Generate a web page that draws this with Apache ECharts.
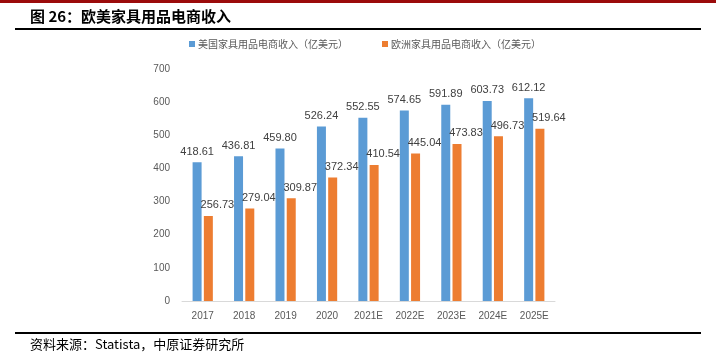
<!DOCTYPE html>
<html><head><meta charset="utf-8">
<script src="https://cdn.jsdelivr.net/npm/echarts@6/dist/echarts.min.js"></script>
<style>html,body{margin:0;padding:0;background:#fff}#c{width:716px;height:355px}</style>
</head><body><div id="c"></div>
<script>
const categories = ['2017','2018','2019','2020','2021E','2022E','2023E','2024E','2025E'];
const usValues = [418.61,436.81,459.80,526.24,552.55,574.65,591.89,603.73,612.12];
const euValues = [256.73,279.04,309.87,372.34,410.54,445.04,473.83,496.73,519.64];
const seriesNames = ['美国家具用品电商收入（亿美元）','欧洲家具用品电商收入（亿美元）'];
const titleText = '图 26：欧美家具用品电商收入';
const sourceText = '资料来源：Statista，中原证券研究所';

const chart = echarts.init(document.getElementById('c'), null, {renderer:'canvas'});
const labelStyle = {show:true, position:'top', distance:5, fontSize:11, color:'#404040',
  fontFamily:'Liberation Sans, sans-serif', formatter: p => p.value.toFixed(2)};
chart.setOption({
  animation:false,
  textStyle:{fontFamily:'"Noto Sans CJK SC", sans-serif'},
  graphic:[
    {type:'rect', shape:{x:0,y:0,width:716,height:3}, style:{fill:'#9b0b0b'}},
    {type:'text', left:30, top:9, style:{text:titleText, font:'bold 15px "Noto Sans CJK SC"', fill:'#000'}},
    {type:'rect', shape:{x:15,y:28,width:686,height:2}, style:{fill:'#000'}},
    {type:'rect', shape:{x:15,y:332,width:686,height:2}, style:{fill:'#000'}},
    {type:'text', left:30, top:338, style:{text:sourceText, font:'13px "Noto Sans CJK SC"', fill:'#000'}}
  ],
  legend:{top:39, left:189, padding:0, itemWidth:6, itemHeight:6, itemGap:34,
    textStyle:{fontSize:10, color:'#595959', padding:[0,0,0,-2]}, icon:'rect',
    data:seriesNames},
  grid:{left:182, right:161, top:69, bottom:54, containLabel:false},
  xAxis:{type:'category', data:categories,
    axisLine:{lineStyle:{color:'#d9d9d9'}}, axisTick:{show:false},
    axisLabel:{color:'#595959', fontSize:10, margin:10, fontFamily:'Liberation Sans Narrow, Liberation Sans, sans-serif'}},
  yAxis:{type:'value', min:0, max:700, interval:100,
    axisLine:{show:false}, axisTick:{show:false}, splitLine:{show:false},
    axisLabel:{color:'#595959', fontSize:10, margin:12, fontFamily:'Liberation Sans, sans-serif'}},
  series:[
    {name:seriesNames[0], type:'bar', data:usValues, barWidth:9, barGap:'25%',
     itemStyle:{color:'#5b9bd5'}, label:labelStyle},
    {name:seriesNames[1], type:'bar', data:euValues, barWidth:9,
     itemStyle:{color:'#ed7d31'}, label:Object.assign({}, labelStyle, {offset:[9,0]})}
  ]
});
</script></body></html>
